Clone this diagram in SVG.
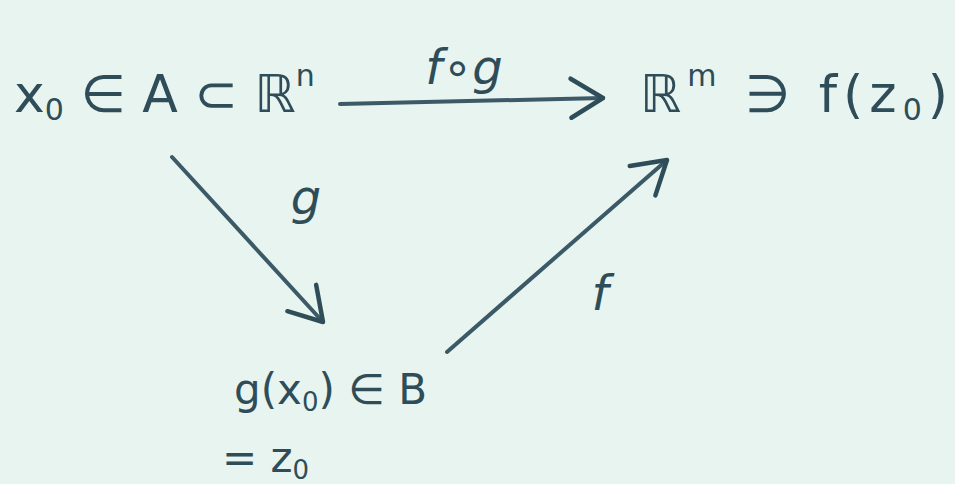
<svg xmlns="http://www.w3.org/2000/svg" width="955" height="484" viewBox="0 0 955 484">
<defs>
<style>
.t{font-family:"DejaVu Sans","Liberation Sans",sans-serif;fill:#2e4d58;}
.big{font-size:52px;}
.lbl{font-size:48px;font-style:italic;}
.edge{fill:none;stroke:#3b5966;stroke-width:4;stroke-linecap:round;stroke-linejoin:round;}
</style>
<marker id="ah" markerUnits="userSpaceOnUse" viewBox="-40 -30 50 60" refX="0" refY="0" markerWidth="50" markerHeight="60" orient="auto">
<path d="M-32,-20 L0,0 L-32,19" fill="none" stroke="#2e4d58" stroke-width="4.5" stroke-linecap="round" stroke-linejoin="round"/>
</marker>
</defs>
<rect width="955" height="484" fill="#e7f4ef"/>
<g id="connectors">
<path class="edge" d="M340,104 L603,98" marker-end="url(#ah)"/>
<path class="edge" d="M172,157 L323,322" marker-end="url(#ah)"/>
<path class="edge" d="M447,352 L667,160" marker-end="url(#ah)"/>
<text class="t lbl" x="464" y="84" text-anchor="middle">f∘g</text>
<text class="t lbl" x="306" y="214" text-anchor="middle">g</text>
<text class="t lbl" x="600" y="310" text-anchor="middle">f</text>
</g>
<g id="node-A">
<text class="t big" x="14" y="112">x<tspan font-size="30" dy="8">0</tspan><tspan dy="-8"> ∈ A ⊂ ℝ</tspan><tspan font-size="30" dy="-26">n</tspan></text>
</g>
<g id="node-Rm">
<text class="t big" x="640" y="112" letter-spacing="6">ℝ<tspan font-size="30" dy="-26">m</tspan><tspan dy="26"> ∋ f(z</tspan><tspan font-size="30" dy="8">0</tspan><tspan dy="-8">)</tspan></text>
</g>
<g id="node-B">
<text class="t" font-size="42" x="234" y="404">g(x<tspan font-size="26" dy="7">0</tspan><tspan dy="-7">) ∈ B</tspan></text>
<text class="t" font-size="42" x="222" y="472">= z<tspan font-size="26" dy="7">0</tspan></text>
</g>
</svg>
